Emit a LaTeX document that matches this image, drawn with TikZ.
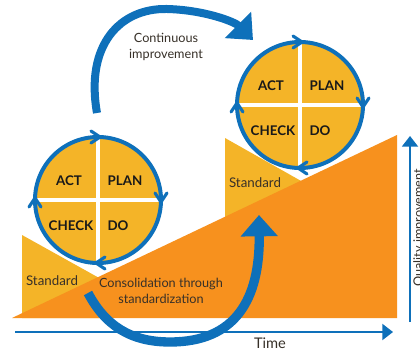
\documentclass[tikz,border=0pt]{standalone}
\usepackage{fontspec}
\setmainfont{Lato}
\usetikzlibrary{arrows.meta}
\definecolor{pdcablue}{RGB}{14,112,186}
\definecolor{pdcayellow}{RGB}{244,180,40}
\definecolor{pdcaorange}{RGB}{247,145,30}
\definecolor{pdcatext}{RGB}{55,48,40}

\begin{document}
\begin{tikzpicture}[x=0.75pt, y=-0.75pt,
  disc/.style={circle, fill=pdcayellow, minimum size=94.5pt, inner sep=0pt},
  ring/.style={circle, draw=pdcablue, line width=3pt, minimum size=94.5pt, inner sep=0pt},
  cross/.style={white, line width=2.3pt},
  chev/.style={pdcablue, line width=2.3pt, line cap=round, line join=round},
  phase/.style={font=\bfseries\fontsize{10}{12}\selectfont, text=black!90},
  caption/.style={font=\fontsize{9.5}{12}\selectfont, text=pdcatext, align=center},
  bigarrow/.style={pdcablue, -{Triangle[length=16pt, width=27pt]}},
  axis/.style={pdcablue, line width=1.5pt, -{Triangle[length=8pt, width=12pt]}}]
\tikzset{standard/.style={font=\fontsize{10}{12}\selectfont, text=pdcatext}}

\useasboundingbox (0,0) rectangle (420,352);

% standards and improvement wedge
\fill[pdcayellow] (22,235) -- (110,284) -- (110,318) -- (22,318) -- cycle;
\fill[pdcayellow] (225,138) -- (310,186) -- (310,230) -- (225,230) -- cycle;
\fill[pdcaorange] (12,318) -- (397,318) -- (397,135) -- cycle;

% PDCA wheels
\foreach \i/\cx/\cy in {1/98/200, 2/300/105} {
  \node[disc] (disc\i) at (\cx,\cy) {};
  \draw[cross] (disc\i.north) -- (disc\i.south) (disc\i.west) -- (disc\i.east);
  \node[ring] (ring\i) at (disc\i) {};
  \node[phase] (act\i) at (\cx-29,\cy-19) {ACT};
  \node[phase] (plan\i) at (\cx+27,\cy-19) {PLAN};
  \node[phase] (check\i) at (\cx-27,\cy+26) {CHECK};
  \node[phase] (do\i) at (\cx+20,\cy+26) {DO};
  \draw[chev] (\cx-7,\cy-69) -- (\cx+2,\cy-63) -- (\cx-7,\cy-57);
  \draw[chev] (\cx+57,\cy-7) -- (\cx+63,\cy+2) -- (\cx+69,\cy-7);
  \draw[chev] (\cx+7,\cy+57) -- (\cx-2,\cy+63) -- (\cx+7,\cy+69);
  \draw[chev] (\cx-69,\cy+7) -- (\cx-63,\cy-2) -- (\cx-57,\cy+7);
}

% continuous improvement
\coordinate (cfrom) at (97,113);
\coordinate (cto) at (253,40);
\draw[bigarrow, line width=6pt] (cfrom) .. controls (85,45) and (120,8) .. (167,9)
  .. controls (205,10) and (235,22) .. (cto);

% consolidation
\coordinate (sfrom) at (88,293);
\coordinate (sto) at (259,215);
\draw[bigarrow, line width=7pt] (sfrom) .. controls (105,325) and (130,342) .. (170,342)
  .. controls (235,342) and (260,300) .. (sto);

% axes
\coordinate (t0) at (15,332);
\coordinate (t1) at (393,332);
\coordinate (q0) at (410,322);
\coordinate (q1) at (410,136);
\draw[axis] (t0) -- (t1);
\draw[axis] (q0) -- (q1);

\node[caption] (ctext) at (166,47) {Continuous\\improvement};
\node[caption] (stext) at (161,291) {Consolidation through\\standardization};
\node[standard] (std1) at (52,281) {Standard};
\node[standard] (std2) at (255,183) {Standard};
\node[font=\fontsize{11}{13}\selectfont, text=pdcatext] (time) at (270,343) {Time};
\node[caption, rotate=90, anchor=north, inner sep=0pt] (quality) at (413,228) {Quality improvement};
\end{tikzpicture}
\end{document}
